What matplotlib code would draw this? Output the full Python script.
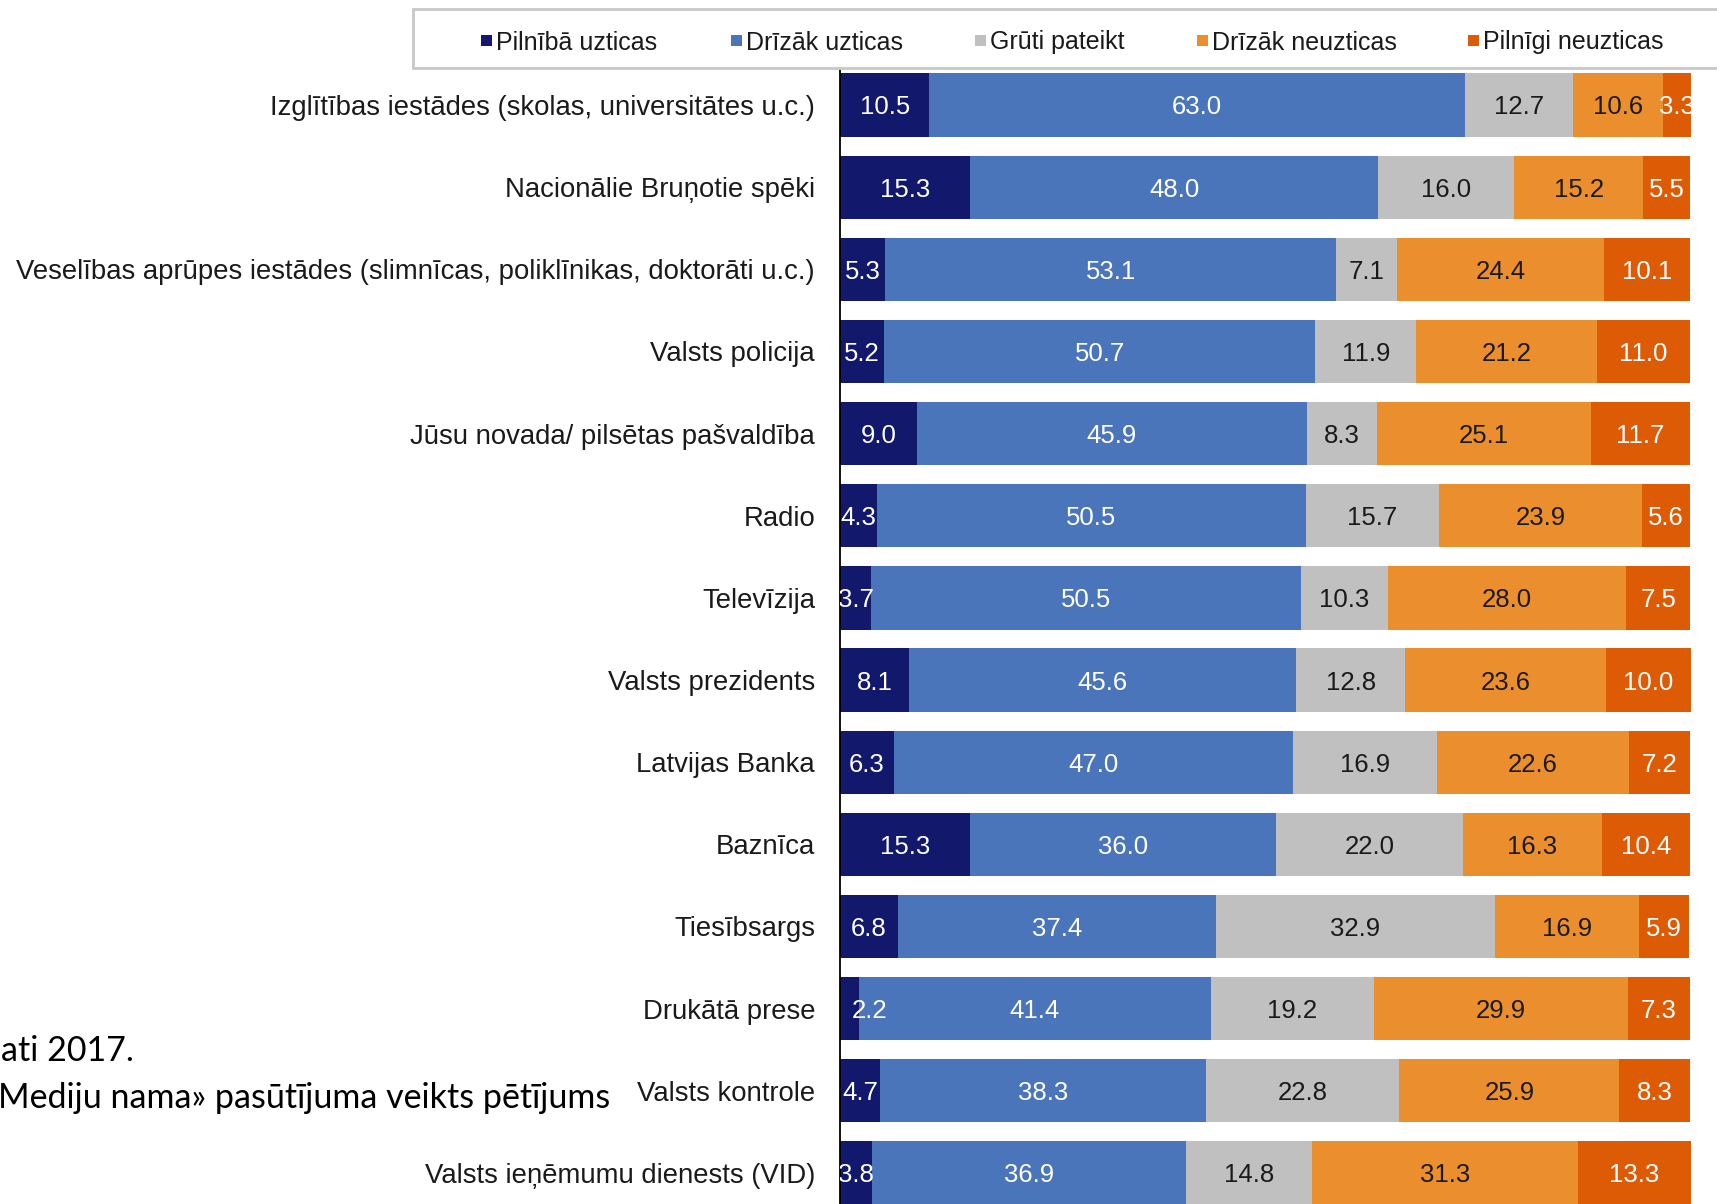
import matplotlib.pyplot as plt
from matplotlib.patches import Rectangle

categories = [
    'Izglītības iestādes (skolas, universitātes u.c.)',
    'Nacionālie Bruņotie spēki',
    'Veselības aprūpes iestādes (slimnīcas, poliklīnikas, doktorāti u.c.)',
    'Valsts policija',
    'Jūsu novada/ pilsētas pašvaldība',
    'Radio',
    'Televīzija',
    'Valsts prezidents',
    'Latvijas Banka',
    'Baznīca',
    'Tiesībsargs',
    'Drukātā prese',
    'Valsts kontrole',
    'Valsts ieņēmumu dienests (VID)',
]
pilniba_uzticas = [10.5, 15.3, 5.3, 5.2, 9.0, 4.3, 3.7, 8.1, 6.3, 15.3, 6.8, 2.2, 4.7, 3.8]
drizak_uzticas = [63.0, 48.0, 53.1, 50.7, 45.9, 50.5, 50.5, 45.6, 47.0, 36.0, 37.4, 41.4, 38.3, 36.9]
gruti_pateikt = [12.7, 16.0, 7.1, 11.9, 8.3, 15.7, 10.3, 12.8, 16.9, 22.0, 32.9, 19.2, 22.8, 14.8]
drizak_neuzticas = [10.6, 15.2, 24.4, 21.2, 25.1, 23.9, 28.0, 23.6, 22.6, 16.3, 16.9, 29.9, 25.9, 31.3]
pilnigi_neuzticas = [3.3, 5.5, 10.1, 11.0, 11.7, 5.6, 7.5, 10.0, 7.2, 10.4, 5.9, 7.3, 8.3, 13.3]

series_names = ['Pilnībā uzticas', 'Drīzāk uzticas', 'Grūti pateikt',
                'Drīzāk neuzticas', 'Pilnīgi neuzticas']
series = [pilniba_uzticas, drizak_uzticas, gruti_pateikt, drizak_neuzticas, pilnigi_neuzticas]
colors = ['#12186B', '#4A75BA', '#C0C0C0', '#EB8F2E', '#DE5B05']
text_colors = ['white', 'white', '#1A1A1A', '#1A1A1A', 'white']

plt.rcParams['font.family'] = ['Liberation Sans', 'DejaVu Sans']

W, H = 1717, 1204
fig = plt.figure(figsize=(W / 100, H / 100), dpi=100)

# axes in pixel terms: y spine at x=840, 100% ends at x=1690
px_per_unit = 8.5
xmax = 104
ax_top = 68
ax = fig.add_axes([840 / W, 0, xmax * px_per_unit / W, (H - ax_top) / H])

row0, step = 105, 82.15
n = len(categories)
y = list(range(n))
ax.set_ylim((H - row0) / step, -(row0 - ax_top) / step)
ax.set_xlim(0, xmax)

left = [0.0] * n
for vals, col, tcol in zip(series, colors, text_colors):
    ax.barh(y, vals, left=left, height=0.77, color=col, linewidth=0)
    for i, v in enumerate(vals):
        cx = left[i] + v / 2
        if cx < 1.5:
            cx = 3.5
        ax.text(cx, i, f'{v:.1f}', ha='center', va='center_baseline', color=tcol,
                fontsize=18.5, clip_on=True)
    left = [a + b for a, b in zip(left, vals)]

ax.set_yticks(y)
ax.set_yticklabels(categories, fontsize=19.8, color='#1A1A1A')
ax.tick_params(axis='y', length=0, pad=18)
ax.set_xticks([])
for s in ['top', 'right', 'bottom']:
    ax.spines[s].set_visible(False)
ax.spines['left'].set_linewidth(1.3)
ax.spines['left'].set_color('black')

# legend box
fig.patches.append(Rectangle((413 / W, 1 - 68 / H), 1.0, 59 / H, transform=fig.transFigure,
                             facecolor='white', edgecolor='#C8C8C8', linewidth=2, zorder=0))
leg_x = [481, 731, 975, 1197, 1468]
for lx, name, col in zip(leg_x, series_names, colors):
    fig.patches.append(Rectangle((lx / W, 1 - 46 / H), 11 / W, 11 / H,
                                 transform=fig.transFigure, facecolor=col, linewidth=0))
    fig.text((lx + 15) / W, 1 - 40 / H, name, fontsize=18, va='center_baseline', ha='left',
             color='#1A1A1A')

# cropped source note at bottom left
fig.text(1 / W, 1 - 1048 / H, 'ati 2017.', fontsize=24.5, family=['Lato', 'DejaVu Sans'],
         va='center_baseline', ha='left')
fig.text(610 / W, 1 - 1095 / H, 'Mediju nama» pasūtījuma veikts pētījums', fontsize=24.5,
         family=['Lato', 'DejaVu Sans'], va='center_baseline', ha='right')

fig.savefig('out.png', dpi=100)
